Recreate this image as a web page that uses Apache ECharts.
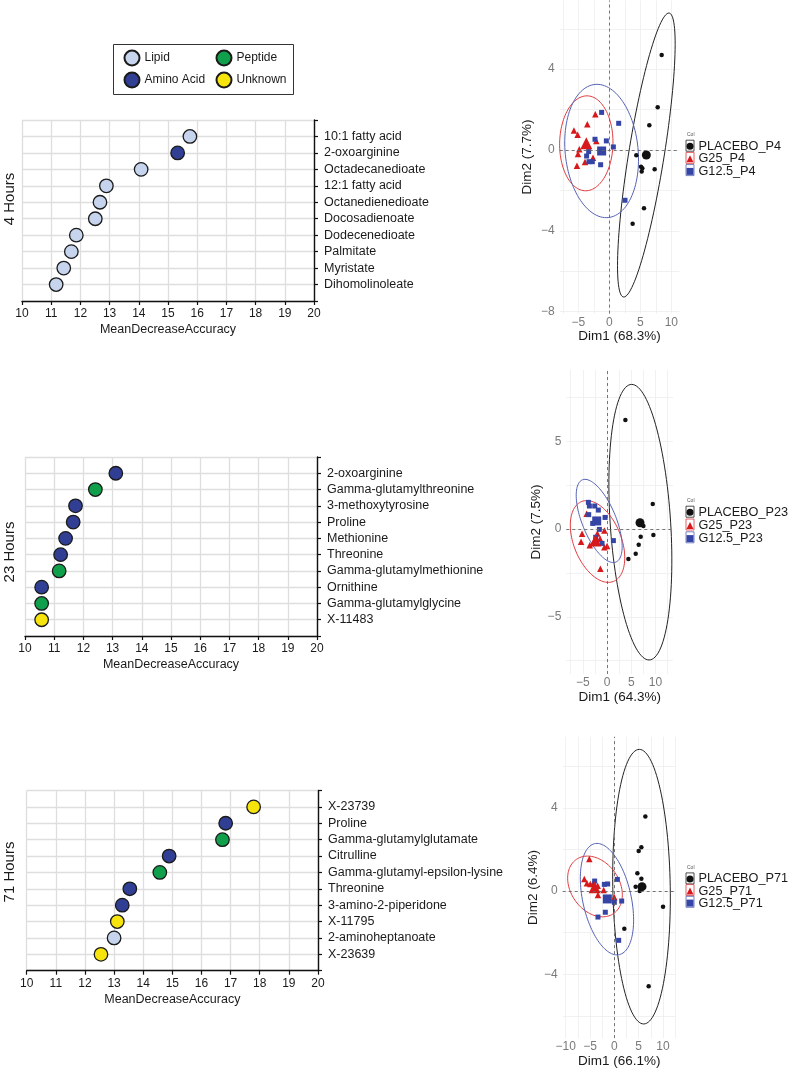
<!DOCTYPE html>
<html>
<head>
<meta charset="utf-8">
<script src="https://cdn.jsdelivr.net/npm/echarts@6/dist/echarts.min.js"></script>
<style>html,body{margin:0;padding:0;background:#fff}#c{width:788px;height:1068px}</style>
</head>
<body>
<div id="c"></div>
<script>
// ---------- Random-forest importance panels ----------
const typeNames = ['Lipid', 'Amino Acid', 'Peptide', 'Unknown'];
const panelTitles = ['4 Hours', '23 Hours', '71 Hours'];
const xTicks = [10, 11, 12, 13, 14, 15, 16, 17, 18, 19, 20];

const h4Names = ['10:1 fatty acid', '2-oxoarginine', 'Octadecanedioate', '12:1 fatty acid', 'Octanedienedioate', 'Docosadienoate', 'Dodecenedioate', 'Palmitate', 'Myristate', 'Dihomolinoleate'];
const h4Values = [15.75, 15.33, 14.08, 12.89, 12.67, 12.51, 11.86, 11.69, 11.43, 11.17];
const h4Types = ['Lipid', 'Amino Acid', 'Lipid', 'Lipid', 'Lipid', 'Lipid', 'Lipid', 'Lipid', 'Lipid', 'Lipid'];

const h23Names = ['2-oxoarginine', 'Gamma-glutamylthreonine', '3-methoxytyrosine', 'Proline', 'Methionine', 'Threonine', 'Gamma-glutamylmethionine', 'Ornithine', 'Gamma-glutamylglycine', 'X-11483'];
const h23Values = [13.11, 12.41, 11.73, 11.65, 11.39, 11.22, 11.17, 10.57, 10.57, 10.57];
const h23Types = ['Amino Acid', 'Peptide', 'Amino Acid', 'Amino Acid', 'Amino Acid', 'Amino Acid', 'Peptide', 'Amino Acid', 'Peptide', 'Unknown'];

const h71Names = ['X-23739', 'Proline', 'Gamma-glutamylglutamate', 'Citrulline', 'Gamma-glutamyl-epsilon-lysine', 'Threonine', '3-amino-2-piperidone', 'X-11795', '2-aminoheptanoate', 'X-23639'];
const h71Values = [17.79, 16.83, 16.72, 14.89, 14.57, 13.54, 13.28, 13.11, 13.00, 12.55];
const h71Types = ['Unknown', 'Amino Acid', 'Peptide', 'Amino Acid', 'Peptide', 'Amino Acid', 'Amino Acid', 'Unknown', 'Lipid', 'Unknown'];

// ---------- PCA panels ----------
const pcaGroups4 = ['PLACEBO_P4', 'G25_P4', 'G12.5_P4'];
const pcaGroups23 = ['PLACEBO_P23', 'G25_P23', 'G12.5_P23'];
const pcaGroups71 = ['PLACEBO_P71', 'G25_P71', 'G12.5_P71'];
const pcaXTitles = ['Dim1 (68.3%)', 'Dim1 (64.3%)', 'Dim1 (66.1%)'];
const pcaYTitles = ['Dim2 (7.7%)', 'Dim2 (7.5%)', 'Dim2 (6.4%)'];

const p4Placebo = [[8.44, 4.70], [7.80, 2.11], [6.45, 1.22], [4.35, -0.26], [5.11, -0.83], [5.32, -0.91], [5.22, -1.07], [7.31, -0.96], [5.59, -2.89], [3.76, -3.65]];
const p4G25 = [[-2.26, 1.77], [-3.55, 1.27], [-5.70, 0.96], [-5.11, 0.76], [-2.10, 0.45], [-4.84, 0.03], [-5.05, -0.20], [-2.63, -0.38], [-3.92, -0.59], [-5.22, -0.78]];
const p4G125 = [[-1.24, 1.86], [1.51, 1.32], [-2.31, 0.53], [-0.48, 0.45], [0.65, 0.15], [-3.33, -0.08], [-3.66, -0.30], [-3.28, -0.58], [-2.74, -0.58], [-1.40, -0.73], [2.53, -2.49]];
const p4Means = [[5.97, -0.25], [-3.71, 0.33], [-1.24, -0.05]];
// ellipse: centre x, centre y, top semi-diameter (dx, dy), horizontal half-chord
const p4Ellipses = [[5.97, -0.25, 3.63, 7.03, 2.9], [-3.71, 0.33, 0.1, 2.35, 4.3], [-1.24, -0.05, -0.75, 3.30, 5.9]];

const p23Placebo = [[3.78, 6.21], [9.42, 1.42], [7.49, 0.17], [6.94, -0.44], [9.55, -0.34], [6.53, -0.89], [5.91, -1.41], [4.40, -1.71]];
const p23G25 = [[-4.19, 0.87], [-5.15, -0.27], [-5.36, -0.72], [-3.57, -0.93], [-1.99, -0.25], [-0.55, -0.09], [-1.44, -0.55], [-0.55, -1.04], [0.0, -0.97], [-1.37, -2.26]];
const p23G125 = [[-3.85, 1.52], [-3.64, 1.31], [-2.54, 1.31], [-1.79, 1.08], [-3.78, 0.82], [-0.41, 0.66], [-2.96, 0.32], [-1.58, -0.02], [1.31, -0.66], [-1.03, -0.82], [-2.34, -0.47]];
const p23Means = [[6.80, 0.36], [-2.41, -0.65], [-2.13, 0.46]];
const p23Ellipses = [[6.87, 0.39, -1.79, 7.85, 6.24], [-1.96, -0.71, -2.23, 2.33, 5.15], [-1.62, 0.46, -2.92, 2.37, 3.73]];

const p71Placebo = [[6.37, 3.58], [5.55, 2.10], [5.00, 1.92], [4.73, 0.85], [5.55, 0.59], [4.38, 0.21], [5.21, 0.0], [10.0, -0.75], [2.05, -1.81], [7.05, -4.58]];
const p71G25 = [[-5.14, 1.54], [-6.16, 0.58], [-5.62, 0.37], [-4.93, 0.34], [-4.25, 0.40], [-3.42, 0.26], [-2.19, 0.05], [-3.36, -0.19], [0.0, -0.30]];
const p71G125 = [[-4.04, 0.48], [-2.05, 0.32], [-1.37, 0.34], [0.62, 0.56], [0.0, -0.54], [1.51, -0.48], [-1.85, -1.02], [-3.36, -1.25], [0.89, -2.37]];
const p71Means = [[5.68, 0.21], [-4.04, 0.18], [-1.44, -0.38]];
const p71Ellipses = [[5.58, 0.21, -0.45, 6.6, 5.9], [-3.97, 0.22, -1.54, 1.46, 5.4], [-1.51, -0.39, -2.05, 2.68, 5.07]];

const pcaXMajor = [[-5, 0, 5, 10], [-5, 0, 5, 10], [-10, -5, 0, 5, 10]];
const pcaXGrid = [[-7.5, -5, -2.5, 0, 2.5, 5, 7.5, 10], [-7.5, -5, -2.5, 0, 2.5, 5, 7.5, 10, 12.5], [-10, -7.5, -5, -2.5, 0, 2.5, 5, 7.5, 10, 12.5]];
const pcaYMajor = [[-8, -4, 0, 4], [-5, 0, 5], [-4, 0, 4]];
const pcaYGrid = [[-8, -6, -4, -2, 0, 2, 4, 6], [-7.5, -5, -2.5, 0, 2.5, 5, 7.5], [-6, -4, -2, 0, 2, 4, 6]];

// ---------- styling ----------
const FONT = 'Liberation Sans, Arial, sans-serif';
const typeColors = { 'Lipid': '#c6d4ed', 'Amino Acid': '#303f93', 'Peptide': '#10a04b', 'Unknown': '#f7e40d' };
const groupColors = ['#111111', '#d7191c', '#3545a5'];
const ellipseColors = ['#222222', '#e0393c', '#5462b4'];
const groupSymbols = ['circle', 'triangle', 'rect'];
const groupSizes = [4.5, 6.5, 5];
const meanSizes = [9, 12, 9];

const dotPanels = [
  { names: h4Names, values: h4Values, types: h4Types, grid: { left: 22, top: 120, width: 292, height: 181 }, title: { x: 10, y: 199 } },
  { names: h23Names, values: h23Values, types: h23Types, grid: { left: 25, top: 457, width: 292, height: 179 }, title: { x: 10, y: 552 } },
  { names: h71Names, values: h71Values, types: h71Types, grid: { left: 26.7, top: 790.5, width: 291.3, height: 180.2 }, title: { x: 10, y: 872 } }
];

const pcaPanels = [
  { groups: pcaGroups4, pts: [p4Placebo, p4G25, p4G125], means: p4Means, ell: p4Ellipses,
    grid: { left: 559.7, top: 0.5, width: 119.7, height: 313.1 }, x: [-8, 11.3], y: [-8.1, 7.4],
    yGap: 25, xGap: 8.5, legendTop: 139.7, pitch: 12.2 },
  { groups: pcaGroups23, pts: [p23Placebo, p23G25, p23G125], means: p23Means, ell: p23Ellipses,
    grid: { left: 566.3, top: 370, width: 106.7, height: 304 }, x: [-8.4, 13.6], y: [-8.26, 9.06],
    yGap: 22.5, xGap: 12.5, legendTop: 505.7, pitch: 12.8 },
  { groups: pcaGroups71, pts: [p71Placebo, p71G25, p71G125], means: p71Means, ell: p71Ellipses,
    grid: { left: 562.7, top: 736.7, width: 113, height: 301.4 }, x: [-10.6, 12.6], y: [-7.07, 7.42],
    yGap: 19, xGap: 14.5, legendTop: 872.4, pitch: 11.7 }
];

const grids = [], xAxes = [], yAxes = [], series = [], legends = [], graphics = [];
const minusFmt = v => (v < 0 ? '\u2212' + (-v) : String(v));

dotPanels.forEach((p, gi) => {
  grids.push(Object.assign({ containLabel: false, outerBoundsMode: 'none' }, p.grid));
  xAxes.push({
    gridIndex: gi, type: 'value', min: xTicks[0], max: xTicks[xTicks.length - 1], interval: 1,
    axisLine: { onZero: false, lineStyle: { color: '#111', width: 1.4 } },
    axisTick: { inside: false, length: 4, lineStyle: { color: '#111', width: 1.2 } },
    axisLabel: { color: '#1a1a1a', fontSize: 12, fontFamily: FONT, margin: 7 },
    splitLine: { show: true, lineStyle: { color: '#dedede', width: 1.3 } },
    name: 'MeanDecreaseAccuracy', nameLocation: 'middle', nameGap: 22,
    nameTextStyle: { color: '#1a1a1a', fontSize: 12.5, fontFamily: FONT }
  });
  const names = p.names;
  yAxes.push({
    gridIndex: gi, type: 'value', min: 0, max: names.length + 1, interval: 1, inverse: true, position: 'right',
    axisLine: { onZero: false, lineStyle: { color: '#111', width: 1.4 } },
    axisTick: { inside: false, length: 4, lineStyle: { color: '#111', width: 1.2 } },
    axisLabel: { color: '#1a1a1a', fontSize: 12.5, fontFamily: FONT, margin: 10,
      formatter: v => names[v - 1] || '' },
    splitLine: { show: true, lineStyle: { color: '#dedede', width: 1.3 } }
  });
  typeNames.forEach(t => {
    const data = [];
    names.forEach((n, i) => { if (p.types[i] === t) data.push([p.values[i], i + 1]); });
    if (data.length) series.push({
      type: 'scatter', name: t, xAxisIndex: gi, yAxisIndex: gi, data, symbol: 'circle', symbolSize: 13.5,
      itemStyle: { color: typeColors[t], borderColor: '#1a1a1a', borderWidth: 1.3, opacity: 1 }, z: 5
    });
  });
  graphics.push({ type: 'text', x: p.title.x, y: p.title.y, rotation: Math.PI / 2,
    style: { text: panelTitles[gi], fontSize: 15, fontFamily: FONT, fill: '#1a1a1a', align: 'center', verticalAlign: 'middle' } });
});

// category legend (2 columns) with frame
legends.push({ orient: 'vertical', left: 123.5, top: 49.5, padding: 0, itemWidth: 15, itemHeight: 15, itemGap: 5, icon: 'circle',
  data: ['Lipid', 'Amino Acid'], textStyle: { fontSize: 12, color: '#1a1a1a', fontFamily: FONT } });
legends.push({ orient: 'vertical', left: 215.5, top: 49.5, padding: 0, itemWidth: 15, itemHeight: 15, itemGap: 5, icon: 'circle',
  data: ['Peptide', 'Unknown'], textStyle: { fontSize: 12, color: '#1a1a1a', fontFamily: FONT } });
graphics.push({ type: 'rect', shape: { x: 113.5, y: 44.5, width: 180, height: 50 }, style: { fill: 'none', stroke: '#333', lineWidth: 1 } });

function ellipseRender(params, api) {
  const cx = api.value(0), cy = api.value(1), ax = api.value(2), ay = api.value(3), bx = api.value(4);
  const pts = [];
  for (let i = 0; i < 120; i++) {
    const t = i / 120 * Math.PI * 2;
    pts.push(api.coord([cx + Math.cos(t) * ax + Math.sin(t) * bx, cy + Math.cos(t) * ay]));
  }
  return { type: 'polygon', shape: { points: pts }, style: { fill: 'none', stroke: api.visual('color'), lineWidth: 1 } };
}

pcaPanels.forEach((p, k) => {
  const gi = 3 + k;
  grids.push(Object.assign({ containLabel: false, outerBoundsMode: 'none' }, p.grid));
  xAxes.push({
    gridIndex: gi, type: 'value', min: p.x[0], max: p.x[1],
    axisLine: { show: false, onZero: false },
    axisTick: { show: false, customValues: pcaXGrid[k] },
    axisLabel: { customValues: pcaXMajor[k], formatter: minusFmt, color: '#7a7a7a', fontSize: 12, fontFamily: FONT, margin: 3 },
    splitLine: { show: true, lineStyle: { color: '#ededed', width: 0.8 } },
    name: pcaXTitles[k], nameLocation: 'middle', nameGap: p.xGap,
    nameTextStyle: { color: '#1a1a1a', fontSize: 13.5, fontFamily: FONT }
  });
  yAxes.push({
    gridIndex: gi, type: 'value', min: p.y[0], max: p.y[1],
    axisLine: { show: false, onZero: false },
    axisTick: { show: false, customValues: pcaYGrid[k] },
    axisLabel: { customValues: pcaYMajor[k], formatter: minusFmt, color: '#7a7a7a', fontSize: 12, fontFamily: FONT, margin: 5 },
    splitLine: { show: true, lineStyle: { color: '#ededed', width: 0.8 } },
    name: pcaYTitles[k], nameLocation: 'middle', nameGap: p.yGap, nameRotate: 90,
    nameTextStyle: { color: '#1a1a1a', fontSize: 13.5, fontFamily: FONT }
  });
  p.groups.forEach((g, j) => {
    const s = {
      type: 'scatter', name: g, xAxisIndex: gi, yAxisIndex: gi, data: p.pts[j],
      symbol: groupSymbols[j], symbolSize: groupSizes[j], itemStyle: { color: groupColors[j], opacity: 1 }, z: 4
    };
    if (j === 0) s.markLine = {
      silent: true, symbol: ['none', 'none'], label: { show: false }, animation: false,
      lineStyle: { type: [3, 3], color: '#666', width: 0.9 },
      data: [{ xAxis: 0 }, { yAxis: 0 }]
    };
    series.push(s);
  });
  p.groups.forEach((g, j) => {
    series.push({ type: 'scatter', name: g, xAxisIndex: gi, yAxisIndex: gi, data: [p.means[j]],
      symbol: groupSymbols[j], symbolSize: meanSizes[j], itemStyle: { color: groupColors[j], opacity: 1 }, z: 4 });
    series.push({ type: 'custom', name: g, xAxisIndex: gi, yAxisIndex: gi, data: [p.ell[j]],
      renderItem: ellipseRender, itemStyle: { color: ellipseColors[j] }, z: 3, silent: true });
  });
  legends.push({ orient: 'vertical', left: 686.5, top: p.legendTop, padding: 0, itemWidth: 7, itemHeight: 7,
    itemGap: p.pitch - 12.6,
    data: p.groups.map((g, j) => ({ name: g, icon: groupSymbols[j] })),
    textStyle: { fontSize: 12.7, lineHeight: 12, color: '#1a1a1a', fontFamily: FONT } });
  p.groups.forEach((g, j) => {
    const cy = p.legendTop + 6 + j * p.pitch;
    graphics.push({ type: 'rect', shape: { x: 686, y: cy - 5.5, width: 8, height: 11 },
      style: { fill: 'none', stroke: ellipseColors[j], lineWidth: 0.8 } });
  });
  graphics.push({ type: 'text', x: 687, y: p.legendTop - 5,
    style: { text: 'Col', fontSize: 5, fontFamily: FONT, fill: '#555', align: 'left', verticalAlign: 'middle' } });
});

const chart = echarts.init(document.getElementById('c'), null, { renderer: 'canvas' });
chart.setOption({
  animation: false,
  backgroundColor: '#ffffff',
  textStyle: { fontFamily: FONT },
  grid: grids, xAxis: xAxes, yAxis: yAxes, series: series, legend: legends, graphic: graphics
});
</script>
</body>
</html>
